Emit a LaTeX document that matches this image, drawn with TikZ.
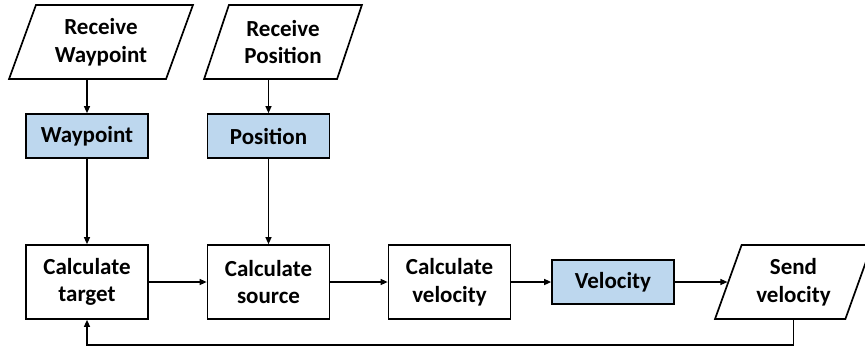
\documentclass[tikz,border=0pt]{standalone}
\usepackage{fontspec}
\setmainfont{Carlito}
\usetikzlibrary{shapes.geometric,arrows.meta}
\definecolor{boxblue}{HTML}{BDD7EE}
\begin{document}
\begin{tikzpicture}[x=1pt,y=-1pt,
  every node/.style={font=\fontsize{23}{27.5}\selectfont\bfseries, align=center, inner sep=0pt},
  procbox/.style={draw=black, line width=1.7pt, minimum width=122pt, minimum height=74pt},
  databox/.style={draw=black, fill=boxblue, line width=1.7pt, minimum width=122pt, minimum height=44pt},
  iobox/.style={draw=black, line width=1.7pt, trapezium, trapezium left angle=68, trapezium right angle=112,
    trapezium stretches=true, minimum height=74pt},
  arr/.style={line width=1.3pt, -{Triangle[length=7pt,width=6pt]}}
]
\useasboundingbox (0,0) rectangle (865,349);
\node[iobox, minimum width=184pt] (rw) at (101,42) {Receive\\Waypoint};
\node[iobox, minimum width=158pt] (rp) at (283,42) {Receive\\Position};
\node[databox] (wp) at (87,136) {Waypoint};
\node[databox] (pos) at (268.5,136) {Position};
\node[procbox] (ct) at (87,282) {Calculate\\target};
\node[procbox] (cs) at (268.5,282) {Calculate\\source};
\node[procbox] (cv) at (449.5,282) {Calculate\\velocity};
\node[databox] (vel) at (613,282) {Velocity};
\node[iobox, minimum width=157pt] (sv) at (793.5,282) {Send\\velocity};
\draw[arr] (rw.south -| wp.north) -- (wp.north);
\draw[arr] (rp.south -| pos.north) -- (pos.north);
\draw[arr] (wp.south) -- (ct.north);
\draw[arr] (pos.south) -- (cs.north);
\draw[arr] (ct.east) -- (cs.west);
\draw[arr] (cs.east) -- (cv.west);
\draw[arr] (cv.east) -- (vel.west);
\draw[arr] (vel.east) -- (sv);
\draw[arr] (sv.south) -- ++(0,25) -| (ct.south);
\end{tikzpicture}
\end{document}
